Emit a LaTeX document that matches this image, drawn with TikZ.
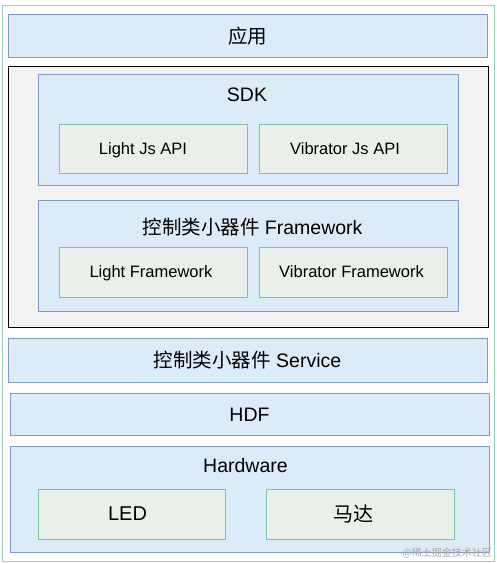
\documentclass[tikz,border=0pt]{standalone}
\usepackage{fontspec}
\setmainfont{Liberation Sans}
\newfontfamily\cjk{Noto Sans CJK SC}
\definecolor{bfill}{HTML}{DCEBF8}
\definecolor{bdraw}{HTML}{7C9CC6}
\definecolor{gfill}{HTML}{EBEFEA}
\definecolor{gdraw}{HTML}{7CC4A4}
\definecolor{odraw}{HTML}{9CCFC0}
\definecolor{kfill}{HTML}{F2F2F2}
\begin{document}
\begin{tikzpicture}[x=1pt,y=-1pt,
  box/.style={rectangle,inner sep=0pt,line width=0.9pt},
  bluebox/.style={box,draw=bdraw,fill=bfill},
  greenbox/.style={box,draw=gdraw,fill=gfill},
  small/.style={inner sep=0pt,text depth=0pt,text height=11.8pt,font=\fontsize{16.5}{18}\selectfont},
  ttl/.style={inner sep=0pt,text depth=0pt,text height=14pt,font=\fontsize{19.5}{22}\selectfont},
  big/.style={inner sep=0pt,text depth=0pt,text height=14.3pt,font=\fontsize{20}{22}\selectfont},
  ]
\useasboundingbox (0,0) rectangle (497,563);
\fill[white] (0,0) rectangle (497,563);
\node[box,draw=odraw,fill=white,minimum width=492pt,minimum height=556pt] (outer) at (248,283) {};
% application
\node[bluebox,minimum width=479pt,minimum height=43pt] (app) at (247.5,35.5) {};
\node[ttl,font=\fontsize{19.5}{22}\selectfont\cjk] (appt) at (247.5,36.5) {应用};
% middle black frame
\node[box,draw=black,fill=kfill,line width=1pt,minimum width=480pt,minimum height=261pt] (mid) at (248,196.5) {};
\node[bluebox,minimum width=420pt,minimum height=111pt] (sdk) at (248,129.5) {};
\node[ttl] (sdkt) at (247,94.5) {SDK};
\node[greenbox,minimum width=188pt,minimum height=49pt] (ljs) at (153,148.5) {};
\node[small] (ljst) at (143,149) {Light Js API};
\node[greenbox,minimum width=188pt,minimum height=49pt] (vjs) at (353,148.5) {};
\node[small] (vjst) at (345,149) {Vibrator Js API};
\node[bluebox,minimum width=420pt,minimum height=111pt] (fw) at (248,255.5) {};
\node[ttl] (fwt) at (252.5,227) {{\cjk 控制类小器件} Framework};
\node[greenbox,minimum width=188pt,minimum height=50pt] (lfw) at (153,272) {};
\node[small] (lfwt) at (151,272) {Light Framework};
\node[greenbox,minimum width=188pt,minimum height=50pt] (vfw) at (353,272) {};
\node[small] (vfwt) at (351.5,272) {Vibrator Framework};
% service, HDF
\node[bluebox,minimum width=479pt,minimum height=44pt] (svc) at (247.5,360) {};
\node[ttl] (svct) at (247.5,360) {{\cjk 控制类小器件} Service};
\node[bluebox,minimum width=479pt,minimum height=42pt] (hdf) at (249.5,414) {};
\node[ttl] (hdft) at (249.5,414.5) {HDF};
% hardware
\node[bluebox,minimum width=479pt,minimum height=106pt] (hw) at (249.5,499) {};
\node[ttl] (hwt) at (245.5,465.5) {Hardware};
\node[greenbox,minimum width=187pt,minimum height=50pt] (led) at (131.5,514) {};
\node[big] (ledt) at (127.5,513.5) {LED};
\node[greenbox,minimum width=188pt,minimum height=50pt] (motor) at (360,514) {};
\node[big,font=\fontsize{20}{22}\selectfont\cjk] (motort) at (353,514) {马达};
\node[text=black!35,font=\fontsize{10}{12}\selectfont\cjk,anchor=east,inner sep=0pt] (wm) at (492,553) {@稀土掘金技术社区};
\end{tikzpicture}
\end{document}
